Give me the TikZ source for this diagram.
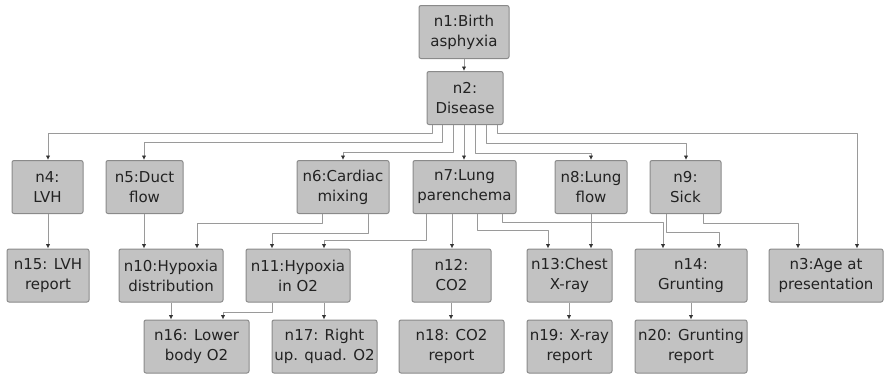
\documentclass[tikz,border=0pt]{standalone}
\usepackage{fontspec}
\setsansfont{DejaVu Sans}
\usepackage{tikz}
\usetikzlibrary{arrows.meta}
\definecolor{bnFill}{HTML}{C2C2C2}
\definecolor{bnEdge}{HTML}{8A8A8A}
\definecolor{bnInk}{HTML}{222222}
\definecolor{bnLine}{HTML}{9A9A9A}
\definecolor{bnTip}{HTML}{333333}
\tikzset{
  bn diagram/.style={font=\sffamily\fontsize{15}{20}\selectfont, text=bnInk,
    line join=round},
  bn box/.style={draw=bnEdge, fill=bnFill, line width=1pt,
    rounded corners=2pt, align=center, inner sep=0pt, minimum height=53pt},
  bn arrow/.style={-{Latex[length=4.5pt,width=4.5pt,color=bnTip]},
    draw=bnLine, line width=1pt}
}

\begin{document}
\begin{tikzpicture}[bn diagram,x=1pt,y=-1pt]
\useasboundingbox (0,0) rectangle (884,375);
% top
\node[bn box, minimum width=90pt] (n1) at (464,32) {n1:Birth\\asphyxia};
\node[bn box, minimum width=76pt] (n2) at (465,98) {n2:\\Disease};
% second row
\node[bn box, minimum width=71pt] (n4) at (47.5,187) {n4:\\LVH};
\node[bn box, minimum width=77pt] (n5) at (144.5,187) {n5:Duct\\flow};
\node[bn box, minimum width=92pt] (n6) at (343,187) {n6:Cardiac\\mixing};
\node[bn box, minimum width=103pt] (n7) at (464.5,187) {n7:Lung\\parenchema};
\node[bn box, minimum width=72pt] (n8) at (591,187) {n8:Lung\\flow};
\node[bn box, minimum width=71pt] (n9) at (685.5,187) {n9:\\Sick};
% third row
\node[bn box, minimum width=82pt] (n15) at (48,275.5) {n15: LVH\\report};
\node[bn box, minimum width=104pt] (n10) at (171,275.5) {n10:Hypoxia\\distribution};
\node[bn box, minimum width=104pt] (n11) at (298,275.5) {n11:Hypoxia\\in O2};
\node[bn box, minimum width=79pt] (n12) at (451.5,275.5) {n12:\\CO2};
\node[bn box, minimum width=85pt] (n13) at (569.5,275.5) {n13:Chest\\X-ray};
\node[bn box, minimum width=112pt] (n14) at (691,275.5) {n14:\\Grunting};
\node[bn box, minimum width=114pt] (n3) at (826,275.5) {n3:Age at\\presentation};
% bottom row
\node[bn box, minimum width=105pt] (n16) at (196.5,346.5) {n16: Lower\\body O2};
\node[bn box, minimum width=105pt] (n17) at (324.5,346.5) {n17: Right\\up. quad. O2};
\node[bn box, minimum width=105pt] (n18) at (451.5,346.5) {n18: CO2\\report};
\node[bn box, minimum width=85pt] (n19) at (569.5,346.5) {n19: X-ray\\report};
\node[bn box, minimum width=112pt] (n20) at (691,346.5) {n20: Grunting\\report};
% straight links
\foreach \a/\b/\xa in {n1/n2/464,n2/n7/464,n4/n15/48,n5/n10/144,n7/n12/452,
  n8/n13/591,n10/n16/171,n11/n17/324,n12/n18/451,n13/n19/569,n14/n20/691}
  \draw[bn arrow] (\a.south -| \xa,0) -- (\b.north -| \xa,0);
% elbow links
\foreach \a/\b/\xa/\ym/\xb in {n2/n4/432/133/48,n2/n5/442/142/144,
  n2/n6/453/152/343,n2/n8/475/153/591,n2/n9/486/143/686,n2/n3/497/133/857,
  n6/n10/322/223/197,n6/n11/368/233/272,n7/n11/426/240/324,
  n7/n13/477/230/548,n7/n14/502/222/663,n9/n14/666/232/719,
  n9/n3/703/223/798,n11/n16/272/312/223}
  \draw[bn arrow] (\a.south -| \xa,0) -- (\xa,\ym) -- (\xb,\ym)
    -- (\b.north -| \xb,0);
\end{tikzpicture}
\end{document}
